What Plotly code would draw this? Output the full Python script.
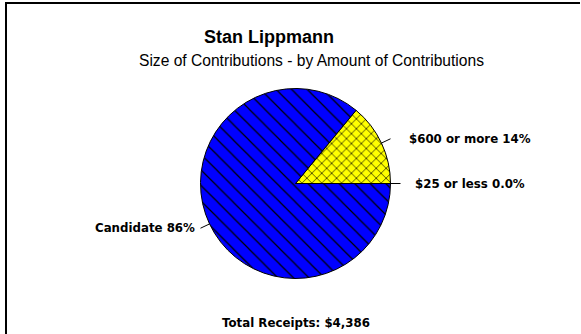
import math
import plotly.graph_objects as go

# ---- data ----
categories = ["$25 or less", "$600 or more", "Candidate"]
values = [0, 614, 3772]
pct_labels = ["0.0%", "14%", "86%"]
colors = ["#FFFF00", "#FFFF00", "#0000FF"]
patterns = ["", "x", "\\"]
title = "Stan Lippmann"
subtitle = "Size of Contributions - by Amount of Contributions"
total_text = "Total Receipts: $4,386"

W, H = 581, 334
CX, CY, R = 295.5, 183.5, 95.0   # pie centre / radius in px
LABEL_FONT = dict(family="DejaVu Sans, sans-serif", size=11.8, color="black")

def px(x):
    return x / W

def py(y):
    return 1 - y / H

fig = go.Figure()
fig.add_trace(go.Pie(
    labels=categories,
    values=values,
    sort=False,
    direction="counterclockwise",
    rotation=90,
    textinfo="none",
    hoverinfo="label+percent",
    showlegend=False,
    marker=dict(
        colors=colors,
        line=dict(color="black", width=1),
        pattern=dict(shape=patterns, fgcolor="black", bgcolor=colors,
                     fillmode="replace",
                     size=[7, 7, 11], solidity=[0.18, 0.18, 0.11]),
    ),
    domain=dict(x=[px(CX - R), px(CX + R)], y=[py(CY + R), py(CY - R)]),
))

shapes = []
annotations = []
total = sum(values)
cum = 0.0
for cat, v, pl in zip(categories, values, pct_labels):
    a0 = cum / total * 360
    cum += v
    a1 = cum / total * 360
    mid = math.radians((a0 + a1) / 2)
    ex, ey = CX + R * math.cos(mid), CY - R * math.sin(mid)
    lx, ly = CX + (R + 10) * math.cos(mid), CY - (R + 10) * math.sin(mid)
    shapes.append(dict(type="line", xref="paper", yref="paper",
                       x0=px(ex), y0=py(ey), x1=px(lx), y1=py(ly),
                       line=dict(color="black", width=1)))
    right = math.cos(mid) >= 0
    tx = lx + (12 + 10 * abs(math.sin(mid)) if right else -3)
    annotations.append(dict(
        x=px(tx), y=py(ly), xref="paper", yref="paper",
        text=f"<b>{cat} {pl}</b>", showarrow=False,
        xanchor="left" if right else "right", yanchor="middle",
        font=LABEL_FONT,
    ))

annotations += [
    dict(x=px(269), y=py(37), xref="paper", yref="paper", text=f"<b>{title}</b>",
         showarrow=False, xanchor="center", yanchor="middle",
         font=dict(family="Liberation Sans, Arial, sans-serif", size=18, color="black")),
    dict(x=px(311), y=py(60.5), xref="paper", yref="paper", text=subtitle,
         showarrow=False, xanchor="center", yanchor="middle",
         font=dict(family="Liberation Sans, Arial, sans-serif", size=15.6, color="black")),
    dict(x=px(296), y=py(323), xref="paper", yref="paper", text=f"<b>{total_text}</b>",
         showarrow=False, xanchor="center", yanchor="middle",
         font=LABEL_FONT),
]

# frame (left and top edges)
shapes += [
    dict(type="line", xref="paper", yref="paper", x0=px(6), x1=px(6), y0=0, y1=py(2),
         line=dict(color="black", width=2)),
    dict(type="line", xref="paper", yref="paper", x0=px(5), x1=px(580), y0=py(3), y1=py(3),
         line=dict(color="black", width=2)),
]

fig.update_layout(
    width=W, height=H,
    margin=dict(l=0, r=0, t=0, b=0),
    paper_bgcolor="white", plot_bgcolor="white",
    shapes=shapes, annotations=annotations,
)

fig.write_html(
    "out.html",
    config={"displayModeBar": False},
    post_script="document.body.style.margin='0';document.body.style.overflow='hidden';",
)
